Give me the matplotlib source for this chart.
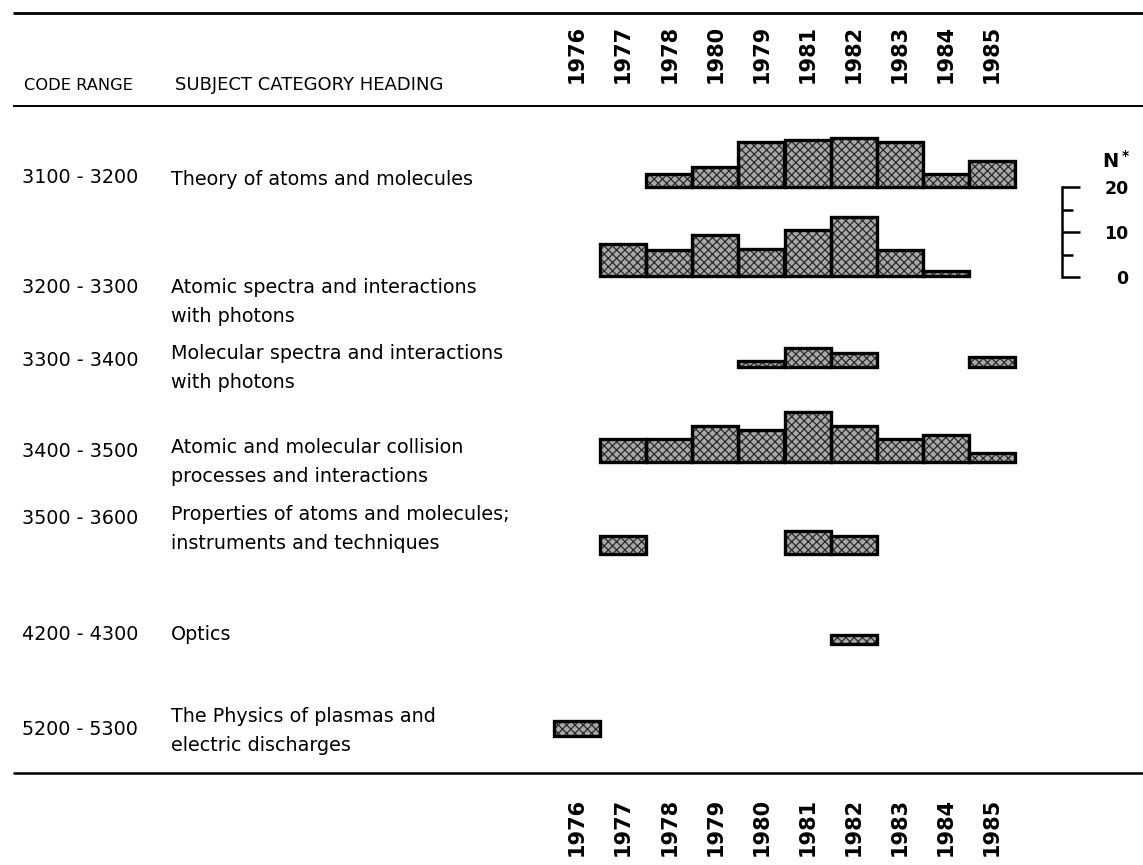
import numpy as np
import matplotlib.pyplot as plt

plt.rcParams['font.family'] = 'DejaVu Sans'
plt.rcParams['hatch.linewidth'] = 0.9

# ---- data -------------------------------------------------------------
years = np.arange(1976, 1986)
top_labels = ['1976', '1977', '1978', '1980', '1979', '1981', '1982', '1983', '1984', '1985']
bottom_labels = [str(y) for y in years]

codes = ['3100 - 3200', '3200 - 3300', '3300 - 3400', '3400 - 3500',
         '3500 - 3600', '4200 - 4300', '5200 - 5300']
headings = [
    ['Theory of atoms and molecules'],
    ['Atomic spectra and interactions', 'with photons'],
    ['Molecular spectra and interactions', 'with photons'],
    ['Atomic and molecular collision', 'processes and interactions'],
    ['Properties of atoms and molecules;', 'instruments and techniques'],
    ['Optics'],
    ['The Physics of plasmas and', 'electric discharges'],
]

nan = np.nan
n_3100 = [nan, nan, 2.7, 4.4, 9.8, 10.4, 10.7, 9.8, 2.7, 5.6]
n_3200 = [nan, 7.1, 5.6, 9.1, 6.0, 10.2, 13.1, 5.6, 1.1, nan]
n_3300 = [nan, nan, nan, nan, 1.3, 4.2, 3.1, nan, nan, 2.2]
n_3400 = [nan, 4.9, 4.9, 7.8, 6.9, 10.9, 7.8, 4.9, 5.8, 2.0]
n_3500 = [nan, 4.0, nan, nan, nan, 5.1, 4.0, nan, nan, nan]
n_4200 = [nan, nan, nan, nan, nan, nan, 1.8, nan, nan, nan]
n_5200 = [3.3, nan, nan, nan, nan, nan, nan, nan, nan, nan]
rows = [n_3100, n_3200, n_3300, n_3400, n_3500, n_4200, n_5200]

scale_ticks = [0, 10, 20]

# ---- layout (pixels) -------------------------------------------------
W, H = 1143, 865
px_per_n = 4.5
x_left, x_right = 554, 1015
baselines = [186.5, 275.5, 366.5, 461.5, 553.5, 643.5, 735.5]
code_base = [183, 293, 366, 457, 524, 640, 735]
head_base = [185, 293, 359, 453, 520, 640, 722]
line_gap = 29
fs = 13.8

fig = plt.figure(figsize=(W / 100, H / 100), dpi=100)
bg = fig.add_axes([0, 0, 1, 1])
bg.set_xlim(0, W)
bg.set_ylim(H, 0)
bg.axis('off')

# rules
bg.plot([13, W], [13, 13], color='black', lw=2.0, solid_capstyle='butt')
bg.plot([13, W], [106, 106], color='black', lw=1.4, solid_capstyle='butt')
bg.plot([13, W], [773, 773], color='black', lw=1.8, solid_capstyle='butt')

# headers
bg.text(24, 90, 'CODE RANGE', fontsize=11.7, va='baseline', ha='left')
bg.text(175, 90, 'SUBJECT CATEGORY HEADING', fontsize=13, va='baseline', ha='left')

# left text columns
for i in range(len(codes)):
    bg.text(22, code_base[i], codes[i], fontsize=fs, va='baseline', ha='left')
    for j, line in enumerate(headings[i]):
        bg.text(171, head_base[i] + j * line_gap, line, fontsize=fs,
                va='baseline', ha='left')

# bar rows
row_h = 80
for vals, b in zip(rows, baselines):
    ax = fig.add_axes([x_left / W, (H - b) / H, (x_right - x_left) / W, row_h / H])
    ax.set_xlim(years[0] - 0.5, years[-1] + 0.5)
    ax.set_ylim(0, row_h / px_per_n)
    ax.axis('off')
    v = np.array(vals, dtype=float)
    m = ~np.isnan(v)
    ax.bar(years[m], v[m], width=1.0, facecolor='#a8a8a8', edgecolor='#2a2a2a',
           linewidth=0, hatch='xxxx', clip_on=False)
    ax.bar(years[m], v[m], width=1.0, fill=False, edgecolor='black',
           linewidth=2.4, joinstyle='miter', clip_on=False)

# year labels (top and bottom)
for y_px, labels, top in [(83, top_labels, True), (798, bottom_labels, False)]:
    ya = fig.add_axes([x_left / W, (H - y_px) / H, (x_right - x_left) / W, 0.0001])
    ya.set_xlim(years[0] - 0.5, years[-1] + 0.5)
    ya.set_frame_on(False)
    ya.set_yticks([])
    ya.set_xticks(years)
    ya.set_xticklabels(labels, rotation=90, fontsize=15, fontweight='bold')
    ya.tick_params(axis='x', length=0, pad=0, labeltop=top, labelbottom=not top,
                   top=False, bottom=False)

# N* scale bracket
sx = 1062
sa = fig.add_axes([sx / W, (H - 277) / H, 40 / W, 90 / H])
sa.set_ylim(0, 20)
sa.set_xlim(0, 1)
for s in ['top', 'bottom', 'right']:
    sa.spines[s].set_visible(False)
sa.spines['left'].set_linewidth(1.8)
sa.set_xticks([])
sa.set_yticks(scale_ticks)
sa.set_yticks([5, 15], minor=True)
sa.yaxis.set_ticks_position('both')
sa.tick_params(axis='y', which='major', direction='in', left=True, right=False,
               length=13, width=1.8, labelleft=False, labelright=True, pad=19)
sa.tick_params(axis='y', which='minor', direction='in', left=True, right=False,
               length=8, width=1.8)
sa.set_yticklabels([str(t) for t in scale_ticks], fontsize=12.5, fontweight='bold')
for lab in sa.get_yticklabels():
    lab.set_horizontalalignment('right')
bg.text(1102, 168, r'$\mathbf{N^*}$', fontsize=14, va='baseline', ha='left')

fig.savefig('out.png', dpi=100, facecolor='white')
